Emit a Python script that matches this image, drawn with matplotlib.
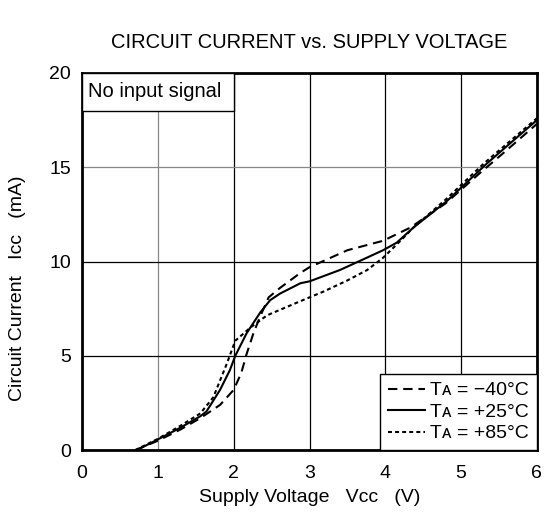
import matplotlib.pyplot as plt
from matplotlib.patches import Rectangle

plt.rcParams['font.family'] = ['Liberation Sans', 'DejaVu Sans']
plt.rcParams['font.size'] = 14

# readings, Vcc (V) vs Icc (mA)
vcc_m40 = [0.70, 1.00, 1.30, 1.56, 1.82, 2.00, 2.10, 2.17, 2.26, 2.35, 2.46, 2.61,
           2.88, 3.00, 3.50, 3.97, 4.33, 4.80, 5.25, 5.60, 6.00]
icc_m40 = [0.0, 0.5, 1.1, 1.7, 2.4, 3.2, 4.1, 5.1, 6.2, 7.1, 8.1, 8.6,
           9.4, 9.7, 10.6, 11.1, 11.8, 13.1, 14.7, 15.9, 17.3]

vcc_25 = [0.72, 0.99, 1.30, 1.56, 1.64, 1.82, 1.95, 2.02, 2.17, 2.35, 2.48, 2.61,
          2.88, 3.00, 3.40, 3.70, 3.97, 4.15, 4.37, 4.81, 5.34, 6.00]
icc_25 = [0.0, 0.55, 1.2, 1.8, 2.05, 3.2, 4.25, 5.0, 6.2, 7.3, 7.95, 8.3,
          8.85, 8.95, 9.55, 10.1, 10.6, 11.0, 11.8, 13.2, 15.2, 17.5]

vcc_85 = [0.70, 1.00, 1.30, 1.56, 1.73, 1.91, 2.02, 2.22, 2.44, 2.88, 3.18, 3.50,
          3.76, 3.97, 4.20, 4.37, 4.80, 5.30, 6.00]
icc_85 = [0.0, 0.6, 1.3, 1.95, 2.8, 4.6, 5.8, 6.5, 7.15, 7.9, 8.4, 9.0,
          9.55, 10.2, 11.1, 11.8, 13.3, 15.2, 17.6]

labels = ['T\u1d00 = \u221240\u00b0C', 'T\u1d00 = +25\u00b0C', 'T\u1d00 = +85\u00b0C']
x_ticks = [0, 1, 2, 3, 4, 5, 6]
y_ticks = [0, 5, 10, 15, 20]

fig = plt.figure(figsize=(5.44, 5.21), dpi=100)
ax = fig.add_axes([0.151, 0.136, 0.836, 0.724])

ax.plot(vcc_m40, icc_m40, color='black', lw=1.5, dashes=(4.5, 2.8), label=labels[0])
ax.plot(vcc_25, icc_25, color='black', lw=1.5, ls='-', label=labels[1])
ax.plot(vcc_85, icc_85, color='black', lw=1.5, dashes=(1.9, 1.5), label=labels[2])

ax.set_xlim(0, 6)
ax.set_ylim(0, 20)
ax.set_xticks(x_ticks)
ax.set_yticks(y_ticks)
ax.tick_params(length=0, labelsize=14)
ax.tick_params(axis='x', pad=11)
ax.tick_params(axis='y', pad=8)
ax.grid(True, color='black', lw=0.9)
# a couple of grid lines come out grey in the original
ax.xaxis.get_gridlines()[1].set_color('#888888')
ax.yaxis.get_gridlines()[3].set_color('#888888')
ax.set_axisbelow(True)
for s in ax.spines.values():
    s.set_linewidth(2)

ax.set_title('CIRCUIT CURRENT vs. SUPPLY VOLTAGE', fontsize=14.5, pad=18)
ax.set_xlabel('Supply Voltage   V\u1d04\u1d04   (V)', fontsize=14)
ax.xaxis.set_label_coords(0.5, -0.103)
ax.set_ylabel('Circuit Current   I\u1d04\u1d04   (mA)', fontsize=14)
ax.yaxis.set_label_coords(-0.123, 0.43)

# "No input signal" box in the top-left corner
ax.add_patch(Rectangle((0, 0.9), 1 / 3, 0.1, transform=ax.transAxes,
                       facecolor='white', edgecolor='black', lw=1, zorder=3))
ax.text(0.012, 0.95, 'No input signal', transform=ax.transAxes,
        ha='left', va='center', fontsize=14.5, zorder=4)

leg = ax.legend(loc='lower right', borderaxespad=0, fancybox=False, framealpha=1,
                edgecolor='black', handlelength=1.9, handletextpad=0.3,
                borderpad=0.4, labelspacing=0.2, fontsize=14)
leg.get_frame().set_linewidth(1)

fig.savefig('out.png', dpi=100)
